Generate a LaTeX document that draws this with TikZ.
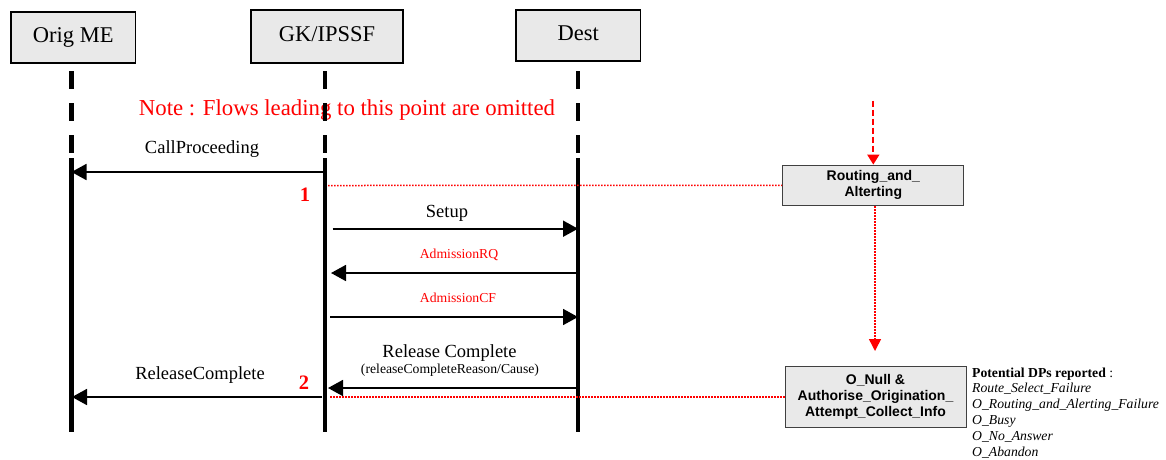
\documentclass[tikz,border=0pt]{standalone}
\usepackage{fontspec}
\setmainfont{Liberation Serif}
\newfontfamily\arialfont{Liberation Sans}
\usetikzlibrary{arrows.meta}
\definecolor{boxfill}{HTML}{E9E9E9}
\definecolor{boxline}{HTML}{404040}
\definecolor{flowred}{HTML}{FF0000}

\begin{document}
\begin{tikzpicture}
  [x=1pt,y=-1pt,
   entity/.style={draw=black,line width=1.4pt,fill=boxfill,inner sep=0pt,
     text height=15pt,text depth=5pt,font=\fontsize{22.5}{26}\selectfont},
   dpbox/.style={draw=boxline,line width=1pt,fill=boxfill,inner sep=0pt,align=center,
     font=\arialfont\bfseries\fontsize{14}{16}\selectfont},
   lifeline/.style={line width=4.5pt},
   lifedash/.style={line width=4.5pt,dash pattern=on 18pt off 14pt},
   msg/.style={line width=1.8pt,-{Triangle[length=15pt,width=16pt]}},
   lbl/.style={anchor=base,inner sep=0pt,font=\fontsize{18.5}{22}\selectfont},
   small/.style={anchor=base,inner sep=0pt,text=flowred,font=\fontsize{13.7}{16}\selectfont},
   reddot/.style={draw=flowred,line width=1.5pt,dash pattern=on 1.5pt off 1.5pt},
   reddash/.style={draw=flowred,line width=1.8pt,dash pattern=on 6pt off 3pt},
   ptnum/.style={anchor=base,inner sep=0pt,text=flowred,font=\bfseries\fontsize{20.5}{24}\selectfont}]
\useasboundingbox (0,0) rectangle (1166,459);

% entities
\node (orig)[entity,minimum width=124.5pt,minimum height=51pt] at (73.3,37.5) {Orig ME};
\node (gk)[entity,minimum width=152pt,minimum height=53pt] at (327,36.5) {GK/IPSSF};
\node (dest)[entity,minimum width=124.5pt,minimum height=51pt] at (578.3,35.5) {Dest};

\node (note)[anchor=base,inner sep=0pt,text=flowred,font=\fontsize{22.8}{26}\selectfont]
  at (347,115) {Note : Flows leading to this point are omitted};

% lifelines
\foreach \n/\x in {orig/71.5,gk/325,dest/578}{
  \coordinate (\n-a) at (\x,71);
  \coordinate (\n-b) at (\x,155);
  \coordinate (\n-c) at (\x,158);
  \coordinate (\n-d) at (\x,432);
  \draw[lifedash] (\n-a) -- (\n-b);
  \draw[lifeline] (\n-c) -- (\n-d);
}

% DP boxes
\node (routing)[dpbox,minimum width=181.3pt,minimum height=40.7pt] at (873.3,185.4)
  {Routing\_and\_\\Alterting};
\node (onull)[dpbox,minimum width=181pt,minimum height=61pt] at (875.5,397.2)
  {O\_Null \&\\Authorise\_Origination\_\\Attempt\_Collect\_Info};
\node (dplist)[anchor=north west,inner sep=0pt,align=left,font=\fontsize{13.7}{15.8}\selectfont]
  at (972,367.3) {\textbf{Potential DPs reported} :\\
  \textit{Route\_Select\_Failure}\\
  \textit{O\_Routing\_and\_Alerting\_Failure}\\
  \textit{O\_Busy}\\
  \textit{O\_No\_Answer}\\
  \textit{O\_Abandon}};

% messages
\coordinate (cp1) at (325,172);   \coordinate (cp2) at (71.5,172);
\coordinate (su1) at (332.5,228.7); \coordinate (su2) at (578,228.7);
\coordinate (rq1) at (578,273);   \coordinate (rq2) at (331,273);
\coordinate (cf1) at (330,317);   \coordinate (cf2) at (578,317);
\coordinate (rc1) at (578,388);   \coordinate (rc2) at (328,388);
\coordinate (rl1) at (322,397);   \coordinate (rl2) at (72,397);

\draw[msg] (cp1) -- (cp2);
\draw[msg] (su1) -- (su2);
\draw[msg] (rq1) -- (rq2);
\draw[msg] (cf1) -- (cf2);
\draw[msg] (rc1) -- (rc2);
\draw[msg] (rl1) -- (rl2);

\node (cpl)[lbl] at (202,153) {CallProceeding};
\node (sul)[lbl] at (447,217) {Setup};
\node (rql)[small] at (459,258) {AdmissionRQ};
\node (cfl)[small] at (458,302) {AdmissionCF};
\node (rcl)[lbl] at (449.5,357) {Release Complete};
\node (rcc)[small,text=black] at (450,373) {(releaseCompleteReason/Cause)};
\node (rll)[lbl] at (200,379) {ReleaseComplete};

% trigger points
\node (p1)[ptnum] at (305,201) {1};
\node (p2)[ptnum] at (304,389) {2};
\coordinate (dp1) at (328,185.5);
\coordinate (dp2) at (330,397.2);
\draw[reddot] (dp1) -- (routing.west);
\draw[reddot] (dp2) -- (onull.west);

\coordinate (omit) at (873.3,100.7);
\coordinate (tipdown) at (875,351);
\draw[reddash,-{Triangle[length=10pt,width=12pt,fill=flowred]}] (omit) -- (routing.north);
\draw[reddot,-{Triangle[length=12pt,width=12pt,fill=flowred]}] (routing.south -| tipdown) -- (tipdown);
\end{tikzpicture}
\end{document}
